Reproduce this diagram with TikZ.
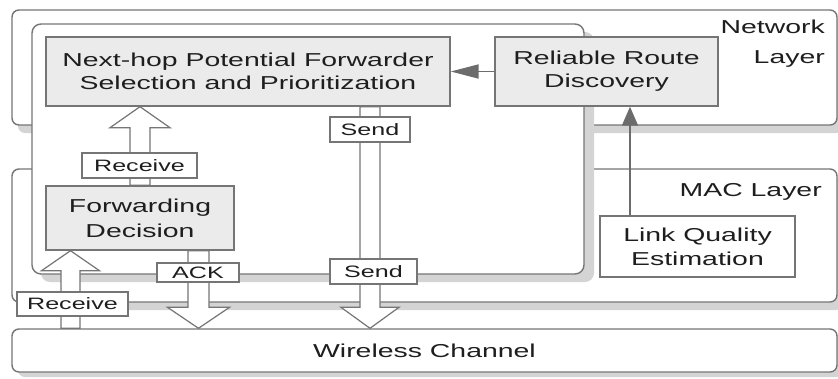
\documentclass[tikz,border=0pt]{standalone}
\usepackage{fontspec}
\setmainfont{Liberation Sans}[FakeStretch=1.52]
\usetikzlibrary{arrows.meta,calc}
\definecolor{ln}{HTML}{757575}
\definecolor{shd}{HTML}{D4D4D4}
\definecolor{boxf}{HTML}{EBEBEB}
\definecolor{txt}{HTML}{1E1E1E}
\definecolor{arr}{HTML}{6C6C6C}
\tikzset{
  lay/.style={draw=ln, line width=1.4pt, fill=white, rounded corners=7pt},
  shadowbox/.style={fill=shd, rounded corners=7pt},
  mainbox/.style={draw=ln, line width=1.4pt, fill=boxf, align=center, text=txt,
    font=\fontsize{18.7}{23}\selectfont, inner sep=0pt},
  lqbox/.style={mainbox, fill=white},
  lbl/.style={draw=ln, line width=1.2pt, fill=white, text=txt,
    font=\fontsize{16.5}{20}\selectfont, inner sep=0pt, minimum height=25pt},
  hollow/.style={draw=ln, line width=1.2pt, fill=white, line join=miter},
  farrow/.style={draw=arr, line width=1.8pt, -{Triangle[length=28pt,width=14pt]}},
  farrowb/.style={draw=arr, line width=1.8pt, -{Triangle[length=19pt,width=16pt]}},
  ltext/.style={anchor=base east, text=txt, font=\fontsize{18.7}{23}\selectfont, inner sep=0pt}
}
\newcommand\hollowup[5]{\draw[hollow] let \p1=(#1), \p2=(#2) in
  ({\x1-#3},\y1) -- ({\x1-#3},{\y2-#5}) -- ({\x1-#4},{\y2-#5}) -- (\x2,\y2) --
  ({\x1+#4},{\y2-#5}) -- ({\x1+#3},{\y2-#5}) -- ({\x1+#3},\y1) -- cycle;}
\newcommand\hollowdown[5]{\draw[hollow] let \p1=(#1), \p2=(#2) in
  ({\x1-#3},\y1) -- ({\x1-#3},{\y2+#5}) -- ({\x1-#4},{\y2+#5}) -- (\x2,\y2) --
  ({\x1+#4},{\y2+#5}) -- ({\x1+#3},{\y2+#5}) -- ({\x1+#3},\y1) -- cycle;}
\begin{document}
\begin{tikzpicture}[x=1pt,y=-1pt]
\useasboundingbox (0,0) rectangle (838,378);
\clip (0,0) rectangle (838,378);
\fill[white] (0,0) rectangle (838,378);
% layer boxes
\fill[shadowbox] (18,18) rectangle (843,133);
\draw[lay] (12,10) rectangle (837,125);
\fill[shadowbox] (18,177) rectangle (843,310);
\draw[lay] (12,169) rectangle (837,302);
\fill[shadowbox] (18,335) rectangle (843,377);
\node[lay, minimum width=825pt, minimum height=43pt, text=txt,
  font=\fontsize{18.7}{23}\selectfont, inner sep=0pt] (wc) at (424.5,350.5) {Wireless Channel};
% inner box
\fill[shadowbox, rounded corners=9pt] (41,32) rectangle (594,282);
\draw[lay, rounded corners=9pt] (32,24) rectangle (584,274);
% layer titles
\node[ltext] (nl1) at (825,33) {Network};
\node[ltext] (nl2) at (825,63) {Layer};
\node[ltext] (mac) at (822,196) {MAC Layer};
% main boxes
\node[mainbox, minimum width=404pt, minimum height=69pt] (np) at (248,71.5)
  {Next-hop Potential Forwarder\\Selection and Prioritization};
\node[mainbox, minimum width=223pt, minimum height=69pt] (rrd) at (606.5,71.5)
  {Reliable Route\\Discovery};
\node[mainbox, minimum width=188pt, minimum height=64pt, font=\fontsize{18.7}{25}\selectfont] (fd) at (140,218)
  {Forwarding\\Decision};
\node[lqbox, minimum width=195pt, minimum height=61pt, font=\fontsize{18.7}{24}\selectfont] (lqe) at (697.5,246.5)
  {Link Quality\\Estimation};
% filled arrows
\coordinate (lx) at (630,0);
\draw[farrow] (rrd.west) -- (np.east);
\draw[farrowb] (lqe.north -| lx) -- (rrd.south -| lx);
% hollow arrows
\coordinate (sx) at (370,0);
\coordinate (ax) at (198.5,0);
\coordinate (rx) at (70.5,0);
\hollowup{fd.north}{np.south -| fd.north}{10pt}{30pt}{21pt}
\hollowdown{np.south -| sx}{wc.north -| sx}{10pt}{29pt}{21pt}
\hollowdown{fd.south -| ax}{wc.north -| ax}{10.5pt}{31pt}{21pt}
\hollowup{wc.north -| rx}{fd.south -| rx}{9.5pt}{29pt}{20pt}
% labels
\node[lbl, minimum width=115pt] (rcv1) at (139.5,165.5) {Receive};
\node[lbl, minimum width=80pt] (snd1) at (370,129.5) {Send};
\node[lbl, minimum width=87pt] (snd2) at (373.5,271.5) {Send};
\node[lbl, minimum width=82pt, minimum height=19pt] (ack) at (198,272.5) {ACK};
\node[lbl, minimum width=111pt, minimum height=24pt] (rcv2) at (72.5,304) {Receive};
\end{tikzpicture}
\end{document}
